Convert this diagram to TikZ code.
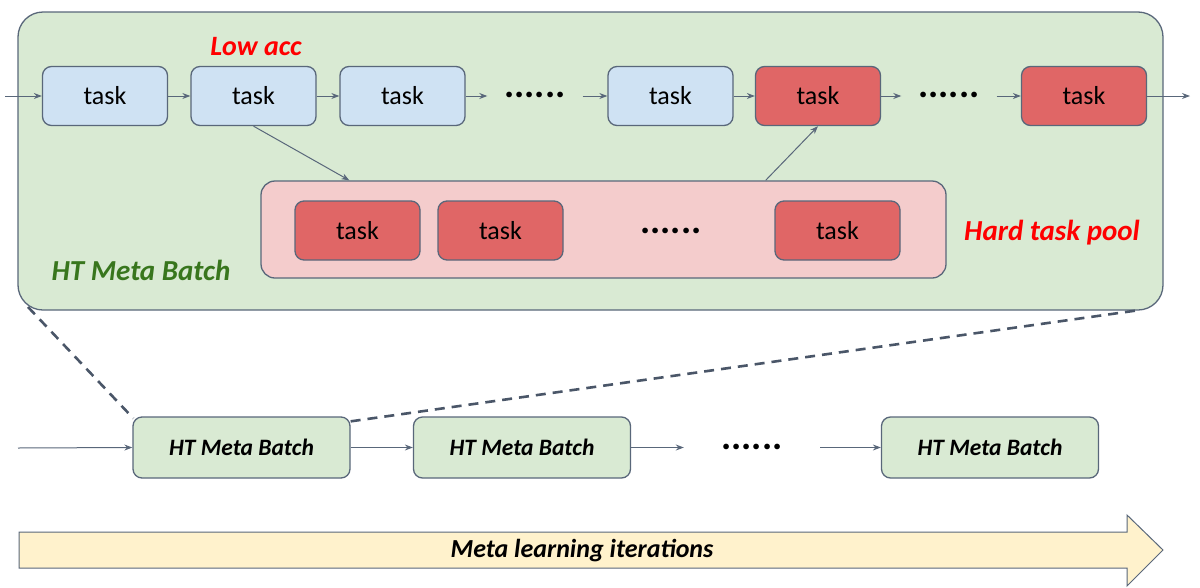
\documentclass[tikz,border=0pt]{standalone}
\usepackage{fontspec}
\setmainfont{Carlito}
\usetikzlibrary{arrows.meta,calc}
\definecolor{edgec}{RGB}{89,103,122}
\definecolor{dashc}{RGB}{74,86,104}
\definecolor{bluef}{RGB}{207,226,243}
\definecolor{redf}{RGB}{224,102,102}
\definecolor{greenf}{RGB}{217,234,211}
\definecolor{pinkf}{RGB}{244,204,204}
\definecolor{yellowf}{RGB}{255,242,204}
\definecolor{greent}{RGB}{56,118,29}
\begin{document}
\begin{tikzpicture}[x=1pt,y=-1pt,
  box/.style={draw=edgec, line width=1.3pt, rounded corners=9pt, minimum width=125pt, minimum height=59pt, inner sep=0pt, font=\fontsize{26}{30}\selectfont},
  bluebox/.style={box, fill=bluef},
  redbox/.style={box, fill=redf},
  htbox/.style={draw=edgec, line width=1.3pt, rounded corners=9pt, fill=greenf, minimum width=217pt, minimum height=61pt, inner sep=0pt, font=\fontsize{23.5}{28}\selectfont\bfseries\itshape},
  arr/.style={draw=edgec, line width=1pt, -{Stealth[length=8pt,width=6pt]}},
  dotsn/.style={inner sep=0pt, font=\fontsize{38}{40}\selectfont\bfseries},
  dashl/.style={draw=dashc, line width=2.6pt, dash pattern=on 10pt off 7pt}
]
\useasboundingbox (0,0) rectangle (1200,587);

% big green container
\node[draw=edgec, line width=1.3pt, fill=greenf, rounded corners=25pt, minimum width=1145pt, minimum height=298pt, inner sep=0pt] (big) at (590.5,161) {};

% hard task pool
\node[draw=edgec, line width=1.3pt, fill=pinkf, rounded corners=14pt, minimum width=685pt, minimum height=97pt, inner sep=0pt] (pool) at (603.5,229.5) {};

% top row
\node[bluebox] (t1) at (105,96) {task};
\node[bluebox] (t2) at (253.5,96) {task};
\node[bluebox] (t3) at (402.5,96) {task};
\node[dotsn, minimum width=95pt] (d1) at (535,95) {......};
\node[bluebox] (t4) at (670.5,96) {task};
\node[redbox] (t5) at (818,96) {task};
\node[dotsn, minimum width=95pt] (d2) at (949,95) {......};
\node[redbox] (t6) at (1084,96) {task};

\coordinate (in1) at (5,96);
\coordinate (out1) at (1190,96);
\draw[arr] (in1) -- (t1.west);
\draw[arr] (t1.east) -- (t2.west);
\draw[arr] (t2.east) -- (t3.west);
\draw[arr] (t3.east) -- (t3.east -| d1.west);
\draw[arr] (t4.west -| d1.east) -- (t4.west);
\draw[arr] (t4.east) -- (t5.west);
\draw[arr] (t5.east) -- (t5.east -| d2.west);
\draw[arr] (t6.west -| d2.east) -- (t6.west);
\draw[arr] (t6.east) -- (out1);

% pool contents
\node[redbox] (p1) at (357.5,230.5) {task};
\node[redbox] (p2) at (500.5,230.5) {task};
\node[dotsn] (d5) at (671,231) {......};
\node[redbox] (p3) at (837.5,230.5) {task};

% labels
\node[text=red, font=\fontsize{28}{32}\selectfont\bfseries\itshape] (low) at (256,47) {Low acc};
\node[text=red, font=\fontsize{29}{32}\selectfont\bfseries\itshape] (hard) at (1052,233) {Hard task pool};
\node[text=greent, font=\fontsize{29}{32}\selectfont\bfseries\itshape] (htl) at (141,270) {HT Meta Batch};

% pool arrows
\draw[arr] (t2.south) -- ([xshift=89pt]pool.north west);
\draw[arr] ([xshift=-181pt]pool.north east) -- (t5.south);

% bottom row
\node[htbox] (b1) at (241.5,447.5) {HT Meta Batch};
\node[htbox] (b2) at (522,447.5) {HT Meta Batch};
\node[dotsn, minimum width=136pt] (d3) at (752,447) {......};
\node[htbox] (b3) at (990,447.5) {HT Meta Batch};
\coordinate (in2) at (18,448);
\draw[arr] (in2) -- (b1.west);
\draw[arr] (b1.east) -- (b2.west);
\draw[arr] (b2.east) -- (b2.east -| d3.west);
\draw[arr] (b3.west -| d3.east) -- (b3.west);

% dashed zoom lines
\coordinate (bl) at (28,307);
\coordinate (br) at (1140,310);
\draw[dashl] (bl) -- ([xshift=1pt,yshift=-2pt]b1.north west);
\draw[dashl] ([yshift=-5pt]b1.north east) -- (br);

% iterations arrow
\path[draw=edgec, line width=1pt, fill=yellowf] (19,532) -- (1127,532) -- (1127,515) -- (1163,550) -- (1127,586) -- (1127,568) -- (19,568) -- cycle;
\node[font=\fontsize{26}{30}\selectfont\bfseries\itshape] (iter) at (582,551) {Meta learning iterations};
\end{tikzpicture}
\end{document}
